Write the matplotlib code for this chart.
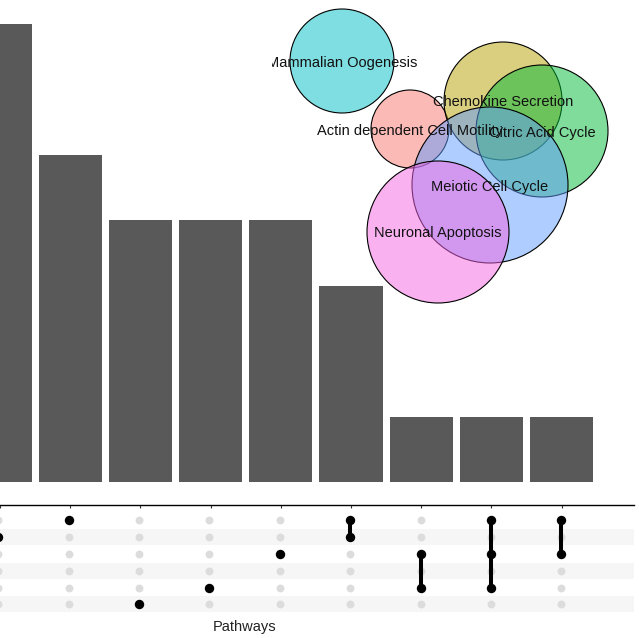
#!/usr/bin/env python3
"""UpSet-style intersection plot with an Euler diagram inset."""

import matplotlib
matplotlib.use('Agg')
import matplotlib.pyplot as plt
from matplotlib.patches import Circle

plt.rcParams['font.family'] = ['Liberation Sans', 'DejaVu Sans']

# intersection sizes, left to right
counts = [7, 5, 4, 4, 4, 3, 1, 1, 1]
# which matrix rows (0 = top) take part in each intersection
members = [[1], [0], [5], [4], [2], [0, 1], [2, 4], [0, 2, 4], [0, 2]]
n_rows = 6

# Euler diagram: set names, centres and radii (inset units)
venn_names = ['Actin dependent Cell Motility', 'Chemokine Secretion',
              'Citric Acid Cycle', 'Mammalian Oogenesis',
              'Meiotic Cell Cycle', 'Neuronal Apoptosis']
venn_cx = [410, 503, 542, 342, 490, 438]
venn_cy = [129, 101, 131, 61, 185, 232]
venn_r = [39, 59, 66, 52, 78, 71]
venn_colors = ['#F8766D', '#B79F00', '#00BA38', '#00BFC4', '#619CFF', '#F564E3']

W, H = 639, 638
fig = plt.figure(figsize=(W / 100, H / 100), dpi=100)

step = 70.4
x0 = -1.9
xl = (-x0 / step, -x0 / step + 634 / step)

# bars
ax = fig.add_axes([0, (H - 505) / H, 634 / W, 504 / H])
xs = list(range(len(counts)))
ax.bar(xs, counts, width=0.9, color='#595959')
ax.set_xlim(*xl)
ax.set_ylim(-0.35, 7.35)
for s in ['top', 'right', 'left']:
    ax.spines[s].set_visible(False)
ax.spines['bottom'].set_linewidth(1.0)
ax.set_xticks(xs)
ax.set_xticklabels([])
ax.set_yticks([])
ax.tick_params(axis='x', length=2, width=0.8, color='#333333')

# matrix
mx = fig.add_axes([0, (H - 616) / H, 634 / W, 110 / H])
mx.set_xlim(*xl)
mx.set_ylim((616 - 520.3) / 16.8, (506 - 520.3) / 16.8)
for k in range(1, n_rows, 2):
    mx.axhspan(k - 0.47, k + 0.47, color='#f6f6f6', lw=0, zorder=0)
for i, rows in enumerate(members):
    mx.scatter([i] * n_rows, range(n_rows), s=32, color='#dcdcdc', lw=0, zorder=1)
    if len(rows) > 1:
        mx.plot([i, i], [min(rows), max(rows)], color='black', lw=2.9, zorder=2)
    mx.scatter([i] * len(rows), rows, s=46, color='black', lw=0, zorder=3)
mx.axis('off')

fig.text(245 / W, 1 - 627 / H, 'Pathways', ha='center', va='center',
         fontsize=10.5, color='#222222')

# Euler inset
vx = fig.add_axes([272 / W, (H - 310) / H, (W - 272) / W, 310 / H])
vx.set_xlim(272, W)
vx.set_ylim(310, 0)
vx.axis('off')
for cx, cy, r, c in zip(venn_cx, venn_cy, venn_r, venn_colors):
    vx.add_patch(Circle((cx, cy), r, facecolor=c, alpha=0.5, lw=0))
    vx.add_patch(Circle((cx, cy), r, facecolor='none', edgecolor='black', lw=0.8))
for name, cx, cy in zip(venn_names, venn_cx, venn_cy):
    vx.text(cx, cy + 1.5, name, ha='center', va='center', fontsize=10.5,
            color='#111111', clip_on=True)

fig.savefig('out.png', dpi=100)
